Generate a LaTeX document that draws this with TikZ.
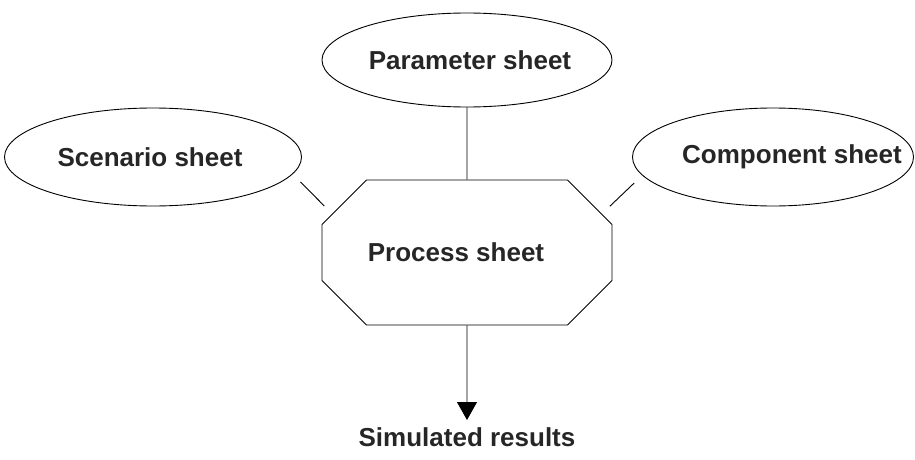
\documentclass[tikz,border=0pt]{standalone}
\usepackage{fontspec}
\setmainfont{Liberation Sans}
\usetikzlibrary{arrows.meta,shapes.geometric,shapes.misc}

\begin{document}
\begin{tikzpicture}[
    x=1pt,y=-1pt,
    every node/.style={font=\fontsize{26}{30}\selectfont\bfseries,text=black!85},
    sheet/.style={draw,ellipse,inner sep=0pt,line width=0.9pt},
    procbox/.style={draw,chamfered rectangle,chamfered rectangle xsep=35pt,chamfered rectangle ysep=35pt,
        minimum width=290pt,minimum height=145pt,inner sep=0pt,line width=0.9pt},
    link/.style={line width=0.9pt,shorten <=11pt,shorten >=11pt},
    arr/.style={line width=0.9pt,-{Triangle[length=18pt,width=20pt]}}
]
\useasboundingbox (0,0) rectangle (915,460);
% input sheets
\node[sheet,minimum width=290pt,minimum height=94pt,label={[xshift=3pt]center:Parameter sheet}]  (param) at (467,60)  {};
\node[sheet,minimum width=297pt,minimum height=98pt,label={[xshift=-3pt]center:Scenario sheet}]  (scen)  at (153,157) {};
\node[sheet,minimum width=281pt,minimum height=98pt,label={[xshift=19pt]center:Component sheet}] (comp)  at (773,157) {};
% process and output
\node[procbox] (proc) at (467,252.5) {\hspace*{-22pt}Process sheet};
\node[inner sep=0pt] (res) at (467,437) {Simulated results};

\draw[line width=0.9pt] (param) -- (proc);
\draw[link] (scen.-7) -- (proc.164);
\draw[link] (comp.-172.6) -- (proc.16.4);
\draw[arr] (proc) -- (467,420);
\end{tikzpicture}
\end{document}
